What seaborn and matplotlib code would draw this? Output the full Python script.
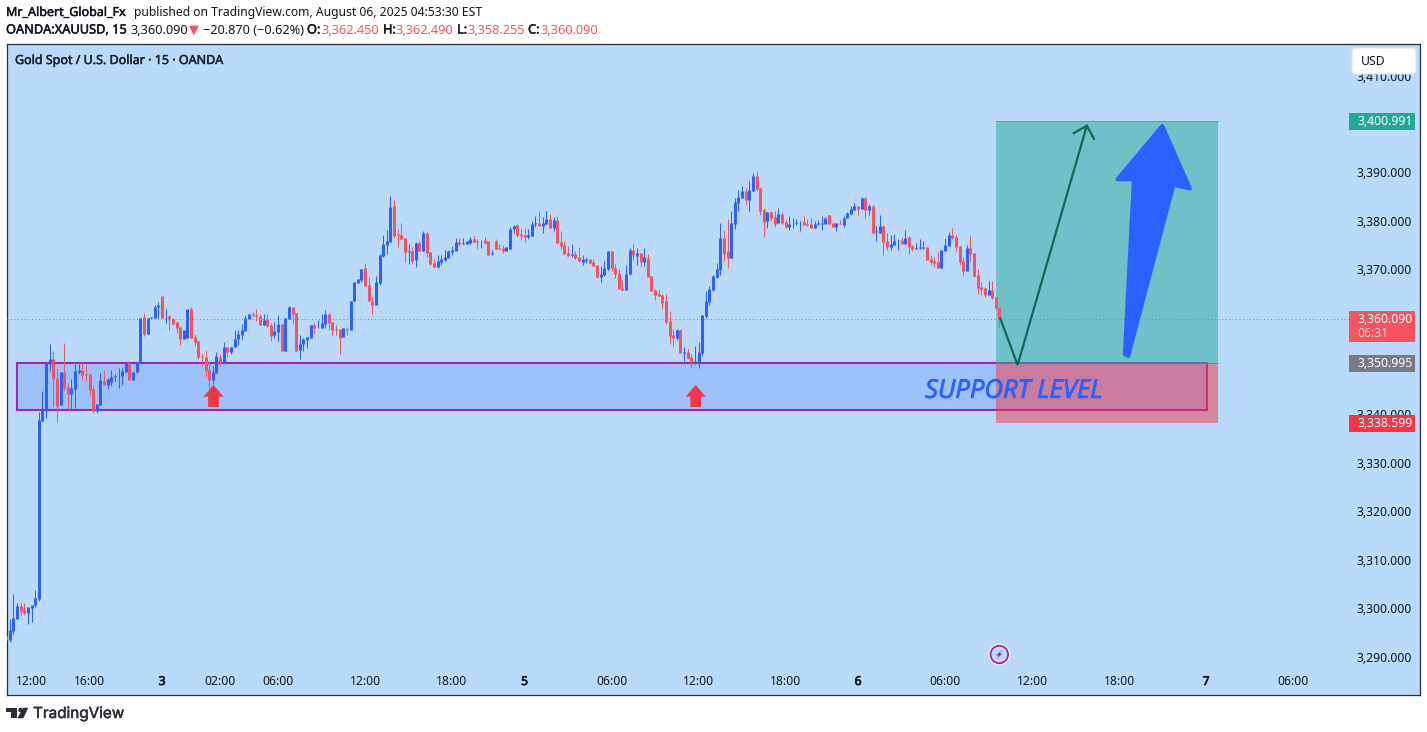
import numpy as np
import pandas as pd
import matplotlib.pyplot as plt
import matplotlib.patheffects as pe
import seaborn as sns
from matplotlib.patches import Polygon, Rectangle, FancyBboxPatch, Circle
from matplotlib.transforms import ScaledTranslation, IdentityTransform, blended_transform_factory

# 15 min candles, one row = 10 bars
opens = [
3294.6,3293.8,3295.7,3298.2,3300.8,3300.0,3299.4,3300.4,3301.1,3302.3,
3339.1,3341.2,3350.8,3351.9,3347.9,3342.4,3349.2,3346.1,3344.6,3345.7,
3349.2,3349.6,3348.8,3348.8,3345.7,3341.1,3342.4,3347.3,3346.5,3347.1,
3348.1,3348.3,3348.3,3349.2,3350.8,3347.5,3349.2,3351.0,3360.5,3357.0,
3360.3,3360.3,3362.6,3364.9,3360.7,3360.8,3360.1,3359.5,3358.5,3356.1,
3356.2,3362.2,3356.4,3355.6,3352.5,3352.3,3349.6,3347.5,3349.0,3352.3,
3351.0,3354.3,3353.3,3354.3,3356.0,3356.8,3357.7,3360.1,3361.2,3361.0,
3360.8,3358.9,3360.1,3358.9,3356.8,3357.5,3359.1,3353.5,3360.1,3362.6,
3361.4,3353.7,3355.0,3355.8,3356.2,3358.9,3358.5,3358.3,3359.2,3361.2,
3359.5,3358.0,3358.0,3356.4,3358.0,3357.9,3363.9,3367.6,3368.2,3370.7,
3367.2,3363.9,3363.0,3367.6,3373.2,3375.4,3376.1,3383.5,3377.7,3377.5,
3376.9,3374.0,3374.2,3372.3,3375.8,3374.2,3377.9,3374.0,3371.7,3370.9,
3371.9,3372.3,3372.7,3374.0,3374.2,3376.1,3375.7,3375.6,3375.8,3376.7,
3376.3,3376.2,3376.5,3376.3,3373.6,3376.3,3374.8,3374.8,3374.2,3374.6,
3378.7,3379.6,3377.7,3377.5,3377.1,3377.3,3379.8,3380.0,3379.4,3379.8,
3380.8,3378.9,3380.6,3376.1,3375.4,3373.8,3373.4,3373.6,3373.0,3371.9,
3372.4,3372.5,3371.9,3371.3,3368.8,3369.2,3370.5,3374.2,3370.7,3369.6,
3366.5,3366.1,3369.4,3374.4,3373.2,3373.8,3371.9,3372.7,3369.0,3366.1,
3365.3,3365.1,3363.9,3359.7,3356.8,3356.2,3357.9,3353.2,3353.3,3352.3,
3351.3,3351.3,3353.1,3360.7,3363.6,3366.1,3368.8,3370.2,3376.9,3374.2,
3372.7,3379.8,3384.1,3385.1,3386.6,3384.7,3386.6,3389.7,3387.2,3382.7,
3380.4,3382.2,3381.2,3380.0,3381.8,3380.2,3379.1,3379.9,3380.0,3380.1,
3380.2,3379.8,3379.8,3378.9,3379.8,3379.8,3379.8,3381.6,3380.0,3379.1,
3380.0,3379.6,3381.0,3381.8,3382.7,3383.5,3382.9,3385.1,3382.7,3383.5,
3378.1,3377.9,3379.4,3376.2,3375.0,3375.4,3376.4,3376.5,3375.6,3377.1,
3375.2,3374.7,3374.9,3374.9,3375.0,3372.5,3372.1,3371.9,3370.7,3374.2,
3375.2,3377.5,3377.1,3375.2,3372.1,3370.0,3374.8,3373.8,3369.2,3366.7,
3366.5,3365.1,3366.1,3364.7,3362.45]

highs = [
3295.0,3298.2,3303.3,3301.5,3301.5,3301.5,3300.6,3301.1,3304.1,3341.0,
3345.3,3351.0,3355.0,3353.5,3350.0,3349.2,3355.2,3346.9,3347.7,3350.8,
3350.8,3351.2,3350.6,3348.8,3346.3,3342.6,3349.0,3349.6,3348.0,3349.6,
3348.8,3350.0,3350.0,3351.0,3351.5,3349.2,3351.2,3360.3,3361.4,3360.3,
3360.5,3363.0,3363.7,3364.9,3362.2,3361.0,3360.3,3359.5,3358.5,3357.9,
3362.2,3362.6,3357.0,3355.6,3353.1,3353.7,3351.5,3350.4,3353.3,3352.9,
3355.4,3354.3,3354.3,3357.9,3357.9,3359.1,3361.0,3361.2,3361.6,3362.2,
3361.2,3361.2,3361.2,3359.3,3359.5,3361.0,3359.1,3360.3,3362.8,3362.6,
3361.4,3356.8,3356.2,3356.4,3358.9,3359.3,3359.9,3361.2,3362.0,3361.4,
3359.5,3358.9,3358.0,3358.3,3358.5,3363.9,3367.8,3368.4,3370.5,3371.7,
3368.8,3364.7,3369.0,3373.6,3377.5,3378.5,3385.6,3384.7,3378.7,3380.0,
3376.9,3375.6,3375.0,3376.1,3376.3,3378.3,3378.1,3374.0,3372.5,3373.4,
3373.4,3374.4,3374.4,3375.2,3376.9,3376.9,3376.9,3376.3,3377.1,3377.3,
3376.7,3376.5,3377.1,3376.3,3374.4,3376.7,3375.6,3375.4,3375.0,3379.1,
3379.6,3379.8,3378.7,3378.9,3378.7,3380.4,3381.4,3382.5,3381.2,3382.5,
3381.8,3381.2,3381.4,3378.3,3376.3,3375.2,3375.6,3374.2,3375.0,3373.4,
3373.0,3372.5,3372.5,3371.3,3371.1,3372.1,3374.2,3374.2,3371.5,3370.5,
3368.2,3371.3,3374.8,3375.6,3374.8,3373.8,3374.8,3373.6,3369.0,3366.3,
3366.3,3365.3,3365.3,3361.8,3358.1,3358.1,3358.1,3354.3,3354.1,3352.9,
3354.5,3355.4,3361.0,3365.9,3366.9,3369.2,3371.7,3380.0,3378.5,3380.8,
3382.4,3385.1,3386.8,3387.6,3387.2,3388.6,3390.3,3390.7,3387.4,3383.1,
3382.2,3382.4,3382.4,3383.1,3382.2,3380.8,3381.4,3381.0,3380.8,3380.4,
3381.4,3380.8,3381.0,3380.4,3380.6,3381.4,3381.2,3381.6,3380.0,3380.0,
3380.6,3381.4,3382.2,3383.5,3384.1,3383.5,3385.3,3385.3,3383.9,3383.7,
3379.4,3381.6,3379.6,3377.9,3377.5,3377.7,3376.7,3377.1,3378.5,3377.3,
3375.4,3375.8,3376.7,3376.2,3375.0,3373.4,3372.9,3374.0,3374.4,3376.9,
3378.1,3378.9,3377.5,3375.2,3372.9,3375.4,3377.3,3373.8,3370.5,3367.8,
3366.7,3368.0,3368.0,3364.7,3362.49]

lows = [
3293.5,3293.4,3295.0,3298.2,3299.0,3299.0,3297.1,3297.5,3300.6,3301.9,
3339.1,3339.7,3349.5,3342.2,3338.9,3342.4,3345.3,3341.3,3341.5,3341.7,
3348.8,3347.5,3347.3,3344.4,3340.7,3340.7,3342.4,3346.5,3345.7,3346.3,
3347.3,3345.9,3346.5,3349.2,3347.5,3347.5,3349.0,3351.0,3356.6,3357.0,
3360.3,3360.3,3360.3,3360.3,3359.3,3357.9,3358.9,3357.2,3354.8,3356.1,
3356.2,3356.2,3354.6,3351.9,3350.4,3348.2,3345.5,3346.7,3349.0,3350.4,
3351.0,3352.3,3352.9,3354.3,3354.8,3355.8,3357.7,3360.1,3360.5,3359.7,
3358.9,3358.9,3358.5,3355.6,3356.2,3355.6,3353.5,3353.5,3360.1,3359.1,
3353.5,3351.9,3353.5,3354.1,3356.2,3357.0,3358.2,3358.3,3358.3,3357.9,
3356.8,3356.8,3352.9,3356.4,3356.8,3357.9,3363.9,3367.6,3367.8,3367.0,
3363.9,3361.2,3363.0,3367.2,3373.0,3373.6,3376.1,3376.9,3375.0,3376.7,
3371.9,3371.5,3371.5,3370.9,3374.2,3374.2,3373.0,3371.3,3370.7,3370.7,
3371.3,3372.1,3372.7,3373.4,3374.2,3375.2,3375.6,3375.6,3375.6,3375.8,
3374.6,3374.8,3375.6,3373.4,3373.4,3374.6,3374.6,3373.8,3374.2,3374.6,
3377.9,3377.1,3376.5,3376.1,3376.7,3377.3,3379.1,3379.4,3377.9,3379.8,
3378.9,3378.3,3375.8,3374.6,3373.6,3373.2,3373.0,3372.5,3371.9,3371.3,
3371.7,3371.5,3371.1,3368.6,3367.8,3369.0,3370.3,3370.1,3368.6,3366.3,
3365.9,3366.1,3369.2,3372.3,3371.3,3370.9,3371.1,3368.8,3365.9,3364.1,
3364.9,3362.2,3359.1,3355.0,3354.5,3355.8,3353.1,3351.5,3351.9,3350.0,
3350.8,3350.0,3352.5,3360.3,3363.0,3365.9,3368.6,3369.2,3372.1,3370.7,
3372.7,3378.7,3382.4,3385.1,3383.7,3382.4,3386.6,3386.6,3381.6,3377.1,
3378.9,3380.4,3379.1,3380.0,3379.8,3378.9,3378.5,3378.9,3379.6,3378.3,
3379.6,3379.4,3378.9,3378.9,3379.6,3378.5,3379.8,3379.8,3379.1,3378.3,
3379.8,3379.1,3381.0,3381.8,3382.7,3381.6,3382.9,3381.0,3381.6,3377.7,
3376.2,3377.9,3373.4,3374.4,3374.4,3375.4,3374.4,3375.6,3375.6,3373.6,
3374.2,3374.6,3374.6,3374.6,3372.3,3371.3,3370.9,3370.7,3370.7,3374.2,
3375.2,3376.7,3374.2,3371.3,3369.2,3370.0,3371.9,3368.8,3365.3,3365.1,
3364.7,3365.1,3364.3,3362.4,3358.255]

closes = [
3293.8,3295.9,3298.4,3300.8,3299.8,3299.4,3300.6,3301.1,3302.5,3339.3,
3341.3,3351.0,3351.8,3347.8,3342.2,3349.2,3345.9,3344.6,3345.9,3349.4,
3349.6,3348.6,3348.6,3345.5,3341.1,3342.6,3347.5,3346.5,3347.7,3348.1,
3348.4,3348.4,3349.4,3351.0,3347.5,3349.2,3351.2,3360.3,3357.0,3360.3,
3360.5,3362.6,3363.0,3360.3,3360.8,3360.1,3359.1,3358.3,3356.0,3357.9,
3362.2,3356.2,3355.4,3352.3,3352.3,3349.4,3347.5,3349.2,3352.5,3351.0,
3354.3,3353.3,3354.3,3356.0,3357.0,3357.9,3360.3,3361.2,3361.0,3360.8,
3358.9,3359.9,3358.7,3356.6,3357.7,3359.1,3353.5,3360.3,3362.6,3361.2,
3353.5,3355.0,3356.0,3356.4,3358.9,3358.3,3358.5,3359.3,3361.2,3359.3,
3357.9,3357.9,3356.2,3358.3,3357.9,3363.9,3367.8,3368.4,3370.5,3367.0,
3363.9,3363.0,3367.8,3373.4,3375.6,3376.3,3383.3,3377.3,3377.5,3376.7,
3374.0,3374.2,3372.1,3375.8,3374.2,3377.9,3373.8,3371.5,3370.9,3372.1,
3372.5,3373.0,3374.2,3374.4,3376.1,3375.6,3375.8,3376.3,3376.7,3376.1,
3376.1,3376.3,3375.8,3373.4,3373.8,3374.6,3374.6,3374.2,3375.0,3378.7,
3379.4,3377.5,3377.3,3377.1,3377.5,3379.8,3380.0,3379.4,3380.0,3380.8,
3378.9,3380.6,3375.8,3375.2,3373.6,3373.2,3373.6,3372.7,3372.1,3372.5,
3372.5,3371.7,3371.1,3368.8,3369.4,3370.7,3374.2,3370.7,3369.4,3366.3,
3366.1,3369.4,3374.4,3373.4,3373.8,3371.9,3373.0,3368.8,3365.9,3365.1,
3364.9,3363.4,3359.5,3356.6,3356.2,3357.9,3353.1,3353.3,3352.1,3351.3,
3351.5,3353.3,3361.0,3363.9,3366.3,3369.0,3370.5,3376.9,3373.6,3372.7,
3380.0,3384.3,3385.3,3386.6,3384.7,3386.8,3389.7,3387.0,3382.4,3380.2,
3382.2,3381.0,3379.8,3381.8,3380.0,3379.1,3379.8,3380.0,3380.2,3380.2,
3379.6,3379.5,3378.9,3379.8,3380.0,3380.0,3381.0,3379.8,3379.1,3380.0,
3379.8,3381.0,3382.0,3382.9,3383.5,3382.9,3385.1,3382.7,3383.5,3377.9,
3378.3,3379.4,3376.0,3375.0,3375.6,3376.2,3376.5,3375.6,3376.9,3375.0,
3374.6,3374.8,3375.0,3375.0,3372.3,3371.9,3371.7,3370.7,3374.4,3375.4,
3377.5,3376.9,3375.0,3371.9,3370.0,3374.8,3373.6,3369.0,3366.5,3366.3,
3365.1,3366.1,3364.5,3362.4,3360.09]

x_tick_bars = [7, 23, 43, 59, 75, 99, 123, 143, 167, 191, 215, 235, 259, 283, 307, 331, 355]
x_tick_labels = ['12:00', '16:00', '3', '02:00', '06:00', '12:00', '18:00', '5', '06:00',
                 '12:00', '18:00', '6', '06:00', '12:00', '18:00', '7', '06:00']
bold_ticks = ['3', '5', '6', '7']
y_ticks = [3410, 3390, 3380, 3370, 3340, 3330, 3320, 3310, 3300, 3290]

last_price = 3360.09
target_price = 3400.991
entry_price = 3350.995
stop_price = 3338.599
zone_top = 3351.1
zone_bottom = 3341.3

path_bars = [274.2, 279.0, 298.1]
path_prices = [3360.29, 3350.64, 3400.08]
head_bars = [294.4, 298.1, 300.1]
head_prices = [3398.5, 3400.08, 3397.33]
arrow_bars = [318.9, 326.5, 322.0, 309.5, 308.6, 311.1, 306.6]
arrow_prices = [3400.0, 3387.1, 3387.9, 3352.5, 3352.9, 3389.0, 3389.0]
marker_bars = [57.2, 190.2]

BG = '#BBD9FB'
UP = '#2962FF'
DOWN = '#F7525F'
ALERT = '#F23645'
DARK = '#131722'
W, H = 1427, 732

sns.set_theme(style='white')
plt.rcParams['font.family'] = ['Noto Sans', 'DejaVu Sans']


def fat(color, width=0.35):
    # the bold cuts of the installed fonts don't come through, thicken the strokes instead
    return [pe.withStroke(linewidth=width, foreground=color)]


fig = plt.figure(figsize=(W / 100, H / 100), dpi=100, facecolor='white')
ax = fig.add_axes([7 / W, (H - 695) / H, 1413 / W, 651 / H], facecolor=BG)

bars = np.arange(len(closes))
direction = ['up' if c >= o else 'down' for o, c in zip(opens, closes)]
base = pd.DataFrame({'bar': bars, 'direction': direction})
wicks = pd.concat([base.assign(price=highs), base.assign(price=lows)])
bodies = pd.concat([base.assign(price=opens), base.assign(price=closes)])
pal = {'up': UP, 'down': DOWN}

sns.lineplot(data=wicks, x='bar', y='price', hue='direction', units='bar', estimator=None,
             palette=pal, lw=0.72, legend=False, ax=ax, zorder=3, snap=True,
             solid_capstyle='butt')
sns.lineplot(data=bodies, x='bar', y='price', hue='direction', units='bar', estimator=None,
             palette=pal, lw=2.16, legend=False, ax=ax, zorder=3.1, snap=True,
             solid_capstyle='butt')

ax.set_xlim(0.24, 390.0)
ax.set_ylim(3282.46, 3416.96)
ax.set_xlabel('')
ax.set_ylabel('')

# support zone, then the long position on top of it
ax.add_patch(Rectangle((2.9, zone_bottom), 328.3, zone_top - zone_bottom, facecolor=UP + '33',
                       edgecolor='#9C27B0', lw=1.5, zorder=1))
ax.add_patch(Rectangle((273, entry_price), 61.2, target_price - entry_price, facecolor='#22AB94',
                       alpha=0.5, lw=0, zorder=1.5))
ax.add_patch(Rectangle((273, stop_price), 61.2, entry_price - stop_price, facecolor=ALERT,
                       alpha=0.5, lw=0, zorder=1.5))
ax.plot([273, 334.2], [target_price] * 2, color='#22AB94', lw=0.72, alpha=0.7, zorder=1.6)
ax.plot([273, 334.2], [entry_price] * 2, color='#787B86', lw=0.72, alpha=0.7, zorder=1.6)

ax.plot([0.24, 370.6], [last_price] * 2, color=DOWN, lw=0.72, ls=(0, (1, 2.5)), zorder=3.2)

ax.plot(path_bars, path_prices, color='#0B6B57', lw=1.6, zorder=4, solid_joinstyle='miter')
ax.plot(head_bars, head_prices, color='#0B6B57', lw=1.6, zorder=4, solid_joinstyle='miter')
ax.add_patch(Polygon(list(zip(arrow_bars, arrow_prices)), closed=True, facecolor=UP,
                     edgecolor=UP, lw=3, joinstyle='round', zorder=4))
for b in marker_bars:
    ax.add_patch(Polygon([(b, 3346.5), (b + 2.76, 3344.1), (b + 1.47, 3344.1), (b + 1.47, 3341.96),
                          (b - 1.47, 3341.96), (b - 1.47, 3344.1), (b - 2.76, 3344.1)],
                         closed=True, facecolor=ALERT, lw=0, zorder=4))
ax.text(278, 3345.2, 'SUPPORT LEVEL', color=UP, fontsize=18.5, style='italic', ha='center',
        va='center', zorder=4.5, family='Open Sans', path_effects=fat(UP, 0.6))

# ticks sit inside the frame like on the platform
ax.set_axisbelow(False)
ax.set_xticks(x_tick_bars)
ax.set_xticklabels(x_tick_labels)
ax.yaxis.tick_right()
ax.set_yticks(y_ticks)
ax.set_yticklabels([f'{v:,.3f}' for v in y_ticks])
ax.tick_params(axis='x', direction='in', length=0, pad=-14.4, labelsize=8.8, labelcolor=DARK)
ax.tick_params(axis='y', direction='in', length=0, pad=-45.4, labelsize=8.8, labelcolor=DARK)
for lab in ax.get_xticklabels():
    if lab.get_text() in bold_ticks:
        lab.set_path_effects(fat(DARK, 0.5))
shift = ScaledTranslation(0, 2 / 100, fig.dpi_scale_trans)
for lab in ax.get_yticklabels():
    lab.set_transform(lab.get_transform() + shift)
for side in ax.spines.values():
    side.set_color('#2A2E39')
    side.set_linewidth(0.9)

# price labels on the scale
scale = blended_transform_factory(ax.transAxes, ax.transData)
box_left = (1349 - 7) / 1413
box_w = 66 / 1413
txt_left = (1357 - 7) / 1413
for price, col in [(target_price, '#22AB94'), (entry_price, '#787B86'), (stop_price, ALERT)]:
    ax.add_patch(Rectangle((box_left, price - 1.75), box_w, 3.5, transform=scale, facecolor=col,
                           lw=0, zorder=6, clip_on=False))
    ax.text(txt_left, price, f'{price:,.3f}', transform=scale, color='white', fontsize=8.8,
            va='center', zorder=7)
ax.add_patch(Rectangle((box_left, last_price - 4.75), box_w, 6.4, transform=scale, facecolor=DOWN,
                       lw=0, zorder=6))
ax.text(txt_left, last_price, f'{last_price:,.3f}', transform=scale, color='white', fontsize=8.8,
        va='center', zorder=7)
ax.text(txt_left, last_price - 2.9, '06:31', transform=scale, color='#FFD5D8', fontsize=8.8,
        va='center', zorder=7)


def put(x, y, s, bold=False, **kw):
    kw.setdefault('color', DARK)
    kw.setdefault('fontsize', 9.2)
    t = fig.text(x / W, 1 - y / H, s, va='center', **kw)
    if bold:
        t.set_path_effects(fat(kw['color']))


def shape(pts, zorder=5, **kw):
    fig.add_artist(Polygon([(x, H - y) for x, y in pts], closed=True, transform=IdentityTransform(),
                           lw=0, zorder=zorder, **kw))


usd = FancyBboxPatch((1354, H - 72), 60, 22, boxstyle='round,pad=2,rounding_size=3', facecolor='white',
                     edgecolor='#E0E3EB', lw=0.8, transform=IdentityTransform(), zorder=8)
fig.add_artist(usd)
fig.text(1361 / W, 1 - 61.5 / H, 'USD', color=DARK, fontsize=8.8, va='center', zorder=9)

# header rows
put(6, 12.5, 'Mr_Albert_Global_Fx', bold=True, fontsize=9.0)
put(134, 12.5, 'published on TradingView.com, August 06, 2025 04:53:30 EST', fontsize=8.75)
put(6, 30, 'OANDA:XAUUSD, 15', bold=True)
put(130, 30, '3,360.090')
put(188.5, 30, '▼', color=DOWN, family=['DejaVu Sans'])
put(203, 30, '−20.870 (−0.62%)')
for x_key, key, x_val, val in [(307, 'O:', 321, '3,362.450'), (383, 'H:', 395, '3,362.490'),
                               (457, 'L:', 467, '3,358.255'), (528, 'C:', 540, '3,360.090')]:
    put(x_key, 30, key, bold=True)
    put(x_val, 30, val, color=DOWN)
put(15, 60.5, 'Gold Spot / U.S. Dollar · 15 · OANDA', bold=True, fontsize=9.0, color='#1E222D')

# footer logo
logo = '#2A2E39'
shape([(6, 707.7), (16.7, 707.7), (16.7, 718.3), (11, 718.3), (11, 712), (6, 712)], facecolor=logo)
shape([(23.3, 707.7), (28.3, 707.7), (23.3, 718.3), (17.3, 718.3)], facecolor=logo)
fig.add_artist(Circle((20.6, H - 710), 2.3, transform=IdentityTransform(), facecolor=logo, lw=0, zorder=5))
put(33, 713.5, 'TradingView', bold=True, color=logo, fontsize=11.0, family='Inter')

# flash badge
fig.add_artist(Circle((999.3, H - 654.5), 10.8, transform=IdentityTransform(), facecolor='white', lw=0, zorder=5))
fig.add_artist(Circle((999.3, H - 654.5), 8.8, transform=IdentityTransform(), facecolor=BG,
                      edgecolor='#9C27B0', lw=1.3, zorder=5.1))
shape([(1002.5, 649.5), (996, 655.5), (999, 655.5), (996, 659.5), (1002.5, 653.5), (999.5, 653.5)],
      zorder=5.2, facecolor='#9C27B0')

fig.savefig('out.png', dpi=100)
